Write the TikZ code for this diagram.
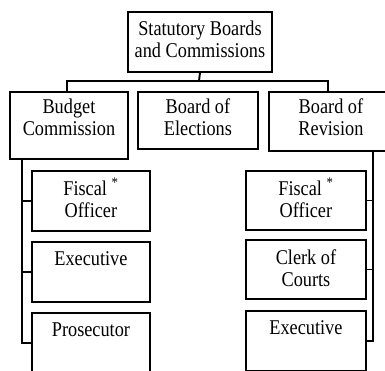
\documentclass[tikz,border=0pt]{standalone}
\usepackage{fontspec}
\setmainfont[FakeStretch=0.87]{Liberation Serif}
\begin{document}
\begin{tikzpicture}[x=1pt,y=-1pt,
  box/.style={draw, line width=1.9pt, inner sep=0pt, anchor=north west},
  lbl/.style={anchor=base, align=center, inner sep=0pt, font=\fontsize{21}{22}\selectfont},
  wire/.style={line width=1.9pt}]
\useasboundingbox (0,0) rectangle (385,370);
% boxes
\node[box, minimum width=144pt, minimum height=60pt] (top) at (127,11) {};
\node[box, minimum width=118pt, minimum height=67pt] (bc) at (9,91) {};
\node[box, minimum width=120pt, minimum height=57pt] (be) at (137,91) {};
\node[box, minimum width=124pt, minimum height=59pt] (br) at (268,91) {};
\node[box, minimum width=118pt, minimum height=60pt] (lf) at (31,170) {};
\node[box, minimum width=118pt, minimum height=60pt] (le) at (31,241) {};
\node[box, minimum width=118pt, minimum height=60pt] (lp) at (31,312) {};
\node[box, minimum width=120pt, minimum height=59pt] (rf) at (245,170) {};
\node[box, minimum width=120pt, minimum height=59pt] (rc) at (245,239) {};
\node[box, minimum width=120pt, minimum height=60pt] (rx) at (245,310) {};
% texts (base anchor = baseline of last line)
\node[lbl] (ttop) at ([yshift=-46pt]top.north) {Statutory Boards\\and Commissions};
\node[lbl] (tbc) at ([yshift=-44pt]bc.north) {Budget\\Commission};
\node[lbl] (tbe) at ([yshift=-44pt]be.north) {Board of\\Elections};
\node[lbl] (tbr) at ([yshift=-44pt]br.north) {Board of\\Revision};
\node[lbl] (tlf) at ([yshift=-47pt]lf.north) {Fiscal \textsuperscript{*}\\Officer};
\node[lbl] (tle) at ([yshift=-24pt]le.north) {Executive};
\node[lbl] (tlp) at ([yshift=-24pt]lp.north) {Prosecutor};
\node[lbl] (trf) at ([yshift=-47pt]rf.north) {Fiscal \textsuperscript{*}\\Officer};
\node[lbl] (trc) at ([yshift=-47pt]rc.north) {Clerk of\\Courts};
\node[lbl] (trx) at ([yshift=-24pt]rx.north) {Executive};
% connectors level 1
\coordinate (bus) at (199,81);
\coordinate (busl) at (67,81);
\coordinate (busr) at (328,81);
\draw[wire] (top.south) -- (bus);
\draw[wire] (bc.north -| busl) |- (busr) -- (br.north -| busr);
% left bracket
\coordinate (lx) at (22,0);
\draw[wire] (bc.south -| lx) |- (lp.west);
\draw[wire] (lf.west) -- (lf.west -| lx);
\draw[wire] (le.west) -- (le.west -| lx);
% right bracket
\coordinate (rx0) at (373,0);
\draw[wire] (br.south -| rx0) |- (rx.east);
\draw[wire] (rf.east) -- (rf.east -| rx0);
\draw[wire] (rc.east) -- (rc.east -| rx0);
\end{tikzpicture}
\end{document}
